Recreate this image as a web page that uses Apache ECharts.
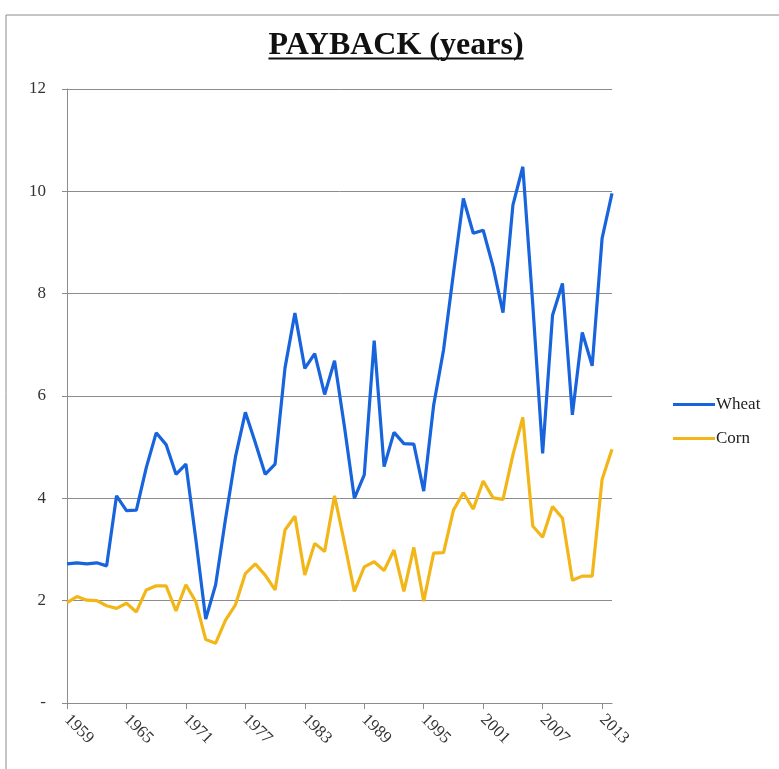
<!DOCTYPE html>
<html>
<head>
<meta charset="utf-8">
<script src="https://cdn.jsdelivr.net/npm/echarts@6/dist/echarts.min.js"></script>
<style>
html,body{margin:0;padding:0;background:#fff;}
#chart{width:779px;height:769px;}
</style>
</head>
<body>
<div id="chart"></div>
<script>
var years = [];
for (var y = 1959; y <= 2014; y++) years.push(String(y));

var wheat = [2.72,2.74,2.72,2.74,2.68,4.05,3.76,3.77,4.6,5.28,5.05,4.47,4.67,3.2,1.64,2.31,3.6,4.81,5.68,
  5.09,4.47,4.67,6.55,7.62,6.54,6.83,6.03,6.69,5.4,4.0,4.46,7.08,4.62,5.29,5.07,5.06,4.14,5.82,6.9,8.4,
  9.86,9.18,9.24,8.53,7.63,9.73,10.48,7.8,4.88,7.58,8.2,5.63,7.24,6.59,9.08,9.96];

var corn = [1.96,2.08,2.01,2.0,1.9,1.85,1.95,1.78,2.21,2.29,2.29,1.80,2.31,1.98,1.24,1.17,1.62,1.92,2.53,
  2.72,2.5,2.21,3.38,3.65,2.5,3.12,2.96,4.05,3.13,2.18,2.66,2.76,2.59,2.99,2.18,3.04,1.99,2.93,2.94,3.77,
  4.11,3.79,4.34,4.01,3.98,4.85,5.58,3.46,3.24,3.84,3.61,2.4,2.48,2.48,4.37,4.96];

var titleText = 'PAYBACK (years)';
var serif = '"Liberation Serif","DejaVu Serif",serif';
var titleFont = 'bold 32px ' + serif;
var titleX = 396;

var cv = document.createElement('canvas').getContext('2d');
cv.font = titleFont;
var tw = cv.measureText(titleText).width;

var chart = echarts.init(document.getElementById('chart'));
chart.setOption({
  animation: false,
  backgroundColor: '#fff',
  grid: {left: 67, right: 167, top: 89, bottom: 66, containLabel: false},
  graphic: [
    {type: 'rect', shape: {x: 6, y: 15, width: 900, height: 900}, style: {fill: 'none', stroke: '#8c8c8c', lineWidth: 1}, silent: true},
    {type: 'text', x: titleX, y: 30, style: {text: titleText, font: titleFont, fill: '#111', textAlign: 'center', textVerticalAlign: 'top'}},
    {type: 'line', shape: {x1: titleX - tw / 2, y1: 58.5, x2: titleX + tw / 2, y2: 58.5}, style: {stroke: '#111', lineWidth: 2}}
  ],
  legend: {
    orient: 'vertical', left: 668, top: 391, itemWidth: 42, itemHeight: 3, itemGap: 17,
    textStyle: {fontFamily: serif, fontSize: 17, color: '#222', padding: [0, 0, 0, -4]},
    data: [{name: 'Wheat', icon: 'rect'}, {name: 'Corn', icon: 'rect'}]
  },
  xAxis: {
    type: 'category', data: years, boundaryGap: false,
    axisLine: {lineStyle: {color: '#8c8c8c', width: 1}},
    axisTick: {show: true, interval: 5, length: 6, lineStyle: {color: '#8c8c8c'}},
    axisLabel: {interval: 5, rotate: -45, fontFamily: serif, fontSize: 17, color: '#333', margin: 14},
    splitLine: {show: false}
  },
  yAxis: {
    type: 'value', min: 0, max: 12, interval: 2,
    axisLine: {show: true, lineStyle: {color: '#8c8c8c', width: 1}},
    axisTick: {show: true, length: 5, lineStyle: {color: '#8c8c8c'}},
    axisLabel: {fontFamily: serif, fontSize: 17, color: '#333', margin: 21,
      formatter: function (v) { return v === 0 ? '-' : String(v); }},
    splitLine: {show: true, lineStyle: {color: '#8c8c8c', width: 1}}
  },
  series: [
    {name: 'Wheat', type: 'line', data: wheat, symbol: 'none', lineStyle: {color: '#1764dc', width: 3.2}, itemStyle: {color: '#1764dc'}},
    {name: 'Corn', type: 'line', data: corn, symbol: 'none', lineStyle: {color: '#f2b619', width: 3.2}, itemStyle: {color: '#f2b619'}}
  ]
});
</script>
</body>
</html>
